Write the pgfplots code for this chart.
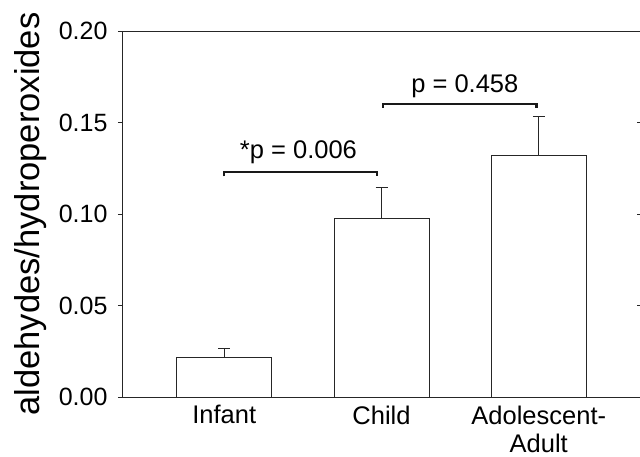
\documentclass[border=0pt]{standalone}
\usepackage{fontspec}
\setmainfont{Liberation Sans}
\usepackage{pgfplots}
\pgfplotsset{compat=1.18}
\begin{document}
\begin{tikzpicture}
\pgfplotsset{
  common/.style={
    scale only axis, width=519pt, height=366pt,
    xmin=-0.65, xmax=2.65, ymin=0, ymax=0.20,
    axis line style={draw=black!85, line width=0.8pt},
    major tick style={draw=black!85, line width=0.8pt},
  }
}
\begin{axis}[common,
  ytick={0,0.05,0.1,0.15,0.2},
  ytick pos=left, tick align=outside, major tick length=4pt,
  yticklabel style={font=\fontsize{25}{25}\selectfont, xshift=-7pt,
    /pgf/number format/.cd, fixed, fixed zerofill, precision=2, assume math mode=true},
  xtick={0,1,2}, xticklabels={Infant,Child,{Adolescent-\\Adult}},
  xticklabel style={font=\fontsize{25.5}{28.5}\selectfont, align=center, yshift=-1pt},
  x tick style={draw=none},
  ylabel={aldehydes/hydroperoxides},
  ylabel style={font=\fontsize{34.5}{34.5}\selectfont, at={(axis description cs:-0.158,0.5)}, anchor=base},
]
\coordinate (sw) at (rel axis cs:0,0);
\addplot[ybar, bar width=0.603, fill=white, draw=black!85, line width=0.8pt,
  error bars/.cd, y dir=plus, y explicit,
  error bar style={line width=0.8pt, draw=black!85},
  error mark options={rotate=90, mark size=6pt, line width=0.8pt, draw=black!85}]
  coordinates {(0,0.0214) +- (0,0.0053) (1,0.0975) +- (0,0.017) (2,0.132) +- (0,0.0215)};
\addplot[line width=2.2pt, black!90, line join=miter] coordinates {(0,0.1206) (0,0.1228) (0.97,0.1228) (0.97,0.1206)};
\addplot[line width=2.2pt, black!90, line join=miter] coordinates {(1.01,0.1580) (1.01,0.1602) (1.985,0.1602) (1.985,0.1580)};
\node[font=\fontsize{25.5}{25.5}\selectfont, anchor=base] at (axis cs:0.472,0.1302) {*p = 0.006};
\node[font=\fontsize{25.5}{25.5}\selectfont, anchor=base] at (axis cs:1.53,0.1666) {p = 0.458};
\end{axis}
\begin{axis}[common, hide x axis, y axis line style={draw=none},
  ytick={0.05,0.1,0.15}, yticklabels={}, ytick pos=right, tick align=inside, major tick length=4pt]
\end{axis}
\pgfresetboundingbox
\path ([shift={(-122pt,-59pt)}]sw) rectangle ([shift={(518pt,397pt)}]sw);
\end{tikzpicture}
\end{document}
